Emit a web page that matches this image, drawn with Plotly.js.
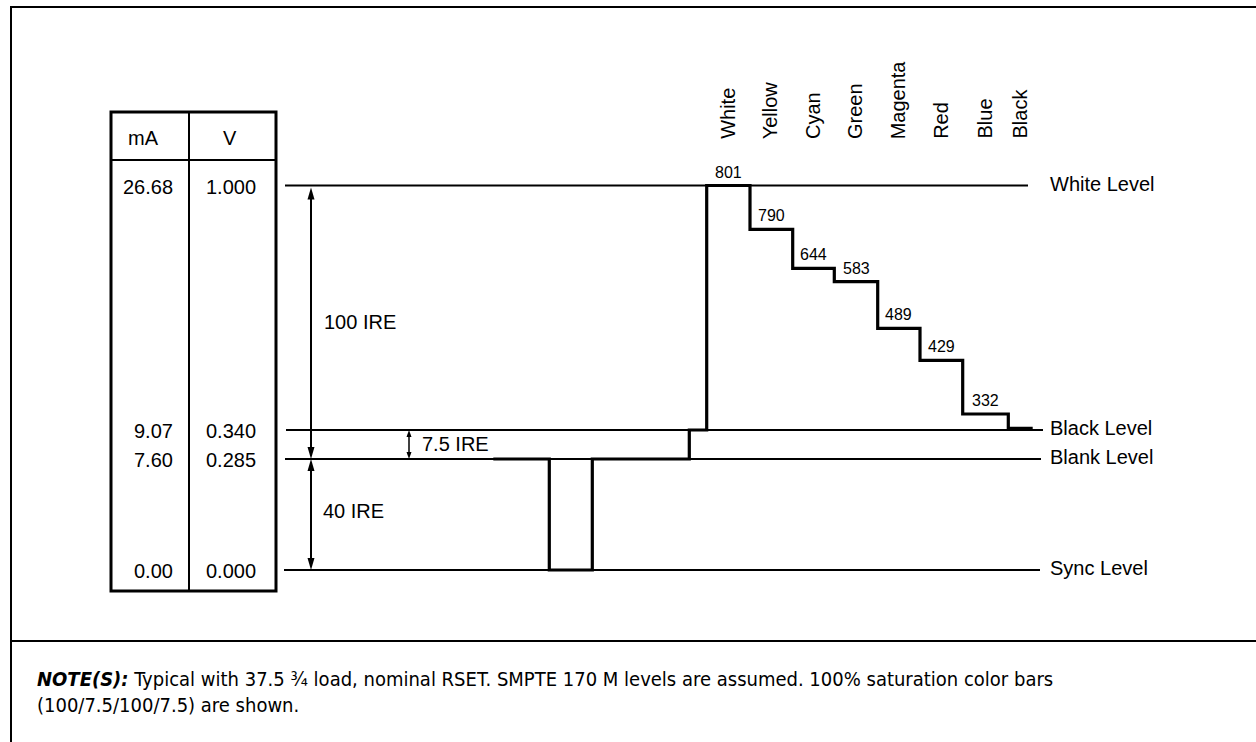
<!DOCTYPE html>
<html>
<head>
<meta charset="utf-8">
<script src="https://cdn.plot.ly/plotly-3.0.1.min.js"></script>
<style>html,body{margin:0;padding:0;background:#fff}#chart{width:1256px;height:742px}</style>
</head>
<body>
<div id="chart"></div>
<script>
// ---- data ----
const levelNames = ['White Level', 'Black Level', 'Blank Level', 'Sync Level'];
const levelmA = ['26.68', '9.07', '7.60', '0.00'];
const levelV = ['1.000', '0.340', '0.285', '0.000'];
const levelIRE = [100, 7.5, 0, -40];
// schematic height of each level in the drawing (not to scale)
const levelY = [384.5, 140, 111, 0];

const barNames = ['White', 'Yellow', 'Cyan', 'Green', 'Magenta', 'Red', 'Blue', 'Black'];
const barCodes = [801, 790, 644, 583, 489, 429, 332, null];
const barY = [384.5, 340.7, 301.7, 288.3, 241.7, 209.7, 156, 141.7];
const barEdges = [706.7, 750, 792.7, 834.3, 877.7, 920, 962.7, 1008.3, 1032.7];

// horizontal sync / blanking interval (time, schematic)
const blankStart = 493.3, syncStart = 549.3, syncEnd = 592.3, setupStart = 689.3;

const noteText = '<b><i>NOTE(S):</i></b> Typical with 37.5 ¾ load, nominal RSET. SMPTE 170 M levels are assumed. 100% saturation color bars<br>(100/7.5/100/7.5) are shown.';

// ---- helpers: 1 axis unit = 1 px ----
const Y0 = 570;            // pixel row of the sync level
const py = p => Y0 - p;    // pixel row -> axis value

const FONT = 'Liberation Sans, Arial, Helvetica, sans-serif';
const NARROW = 'Liberation Sans Narrow, Arial Narrow, DejaVu Sans Condensed, sans-serif';

const traces = [];
const shapes = [];
const ann = [];

// level lines
const lineStarts = [285, 286, 285, 284];
const lineEnds = [1028, 1043, 1041, 1040];
levelY.forEach((y, i) => {
  traces.push({x: [lineStarts[i], lineEnds[i]], y: [y, y], mode: 'lines',
    line: {color: '#000', width: 2}, hoverinfo: 'skip', showlegend: false});
  ann.push({x: 1048, y: y, text: levelNames[i], showarrow: false, xanchor: 'left', yanchor: 'middle',
    yshift: 2, font: {family: FONT, size: 20, color: '#000'}});
  ann.push({x: 175, y: y, text: levelmA[i], showarrow: false, xanchor: 'right', yanchor: 'middle',
    yshift: -1, font: {family: FONT, size: 20, color: '#000'}});
  ann.push({x: 258, y: y, text: levelV[i], showarrow: false, xanchor: 'right', yanchor: 'middle',
    yshift: -1, font: {family: FONT, size: 20, color: '#000'}});
});

// waveform
const wx = [blankStart, syncStart, syncStart, syncEnd, syncEnd, setupStart, setupStart, barEdges[0]];
const wy = [levelY[2], levelY[2], levelY[3], levelY[3], levelY[2], levelY[2], levelY[1], levelY[1]];
barY.forEach((y, i) => { wx.push(barEdges[i], barEdges[i + 1]); wy.push(y, y); });
traces.push({x: wx, y: wy, mode: 'lines', line: {color: '#000', width: 3.2, shape: 'linear'},
  hoverinfo: 'skip', showlegend: false});

// bar labels
barNames.forEach((n, i) => {
  const cx = (barEdges[i] + barEdges[i + 1]) / 2;
  ann.push({x: cx, y: py(138), text: n, showarrow: false, textangle: -90, xanchor: 'center', yanchor: 'bottom',
    xshift: -1, yshift: -3, font: {family: FONT, size: 20, color: '#000'}});
  if (barCodes[i] !== null) {
    ann.push({x: cx, y: barY[i], text: String(barCodes[i]), showarrow: false, xanchor: 'center', yanchor: 'bottom',
      yshift: 3, font: {family: FONT, size: 16, color: '#000'}});
  }
});

// dimension arrows
function dimArrow(x, yTop, yBot, w, headL, headW) {
  shapes.push({type: 'line', xref: 'x', yref: 'y', x0: x, x1: x, y0: yTop - headL + 1, y1: yBot + headL - 1,
    line: {color: '#000', width: w}});
  const hw = headW / 2;
  shapes.push({type: 'path', xref: 'x', yref: 'y', fillcolor: '#000', line: {width: 0},
    path: `M${x},${yTop} L${x - hw},${yTop - headL} L${x + hw},${yTop - headL} Z`});
  shapes.push({type: 'path', xref: 'x', yref: 'y', fillcolor: '#000', line: {width: 0},
    path: `M${x},${yBot} L${x - hw},${yBot + headL} L${x + hw},${yBot + headL} Z`});
}
dimArrow(311, levelY[0] - 2, levelY[2], 2, 12, 7);
dimArrow(311, levelY[2], levelY[3], 2, 12, 7);
dimArrow(409, levelY[1], levelY[2], 1.5, 7, 5);

const ireLabel = (v) => v + ' IRE';
ann.push({x: 322, y: (levelY[0] + levelY[2]) / 2, text: ireLabel(levelIRE[0] - levelIRE[2]), showarrow: false,
  xanchor: 'left', yanchor: 'middle', font: {family: FONT, size: 20, color: '#000'}});
ann.push({x: 321, y: (levelY[2] + levelY[3]) / 2 + 4, text: ireLabel(levelIRE[2] - levelIRE[3]), showarrow: false,
  xanchor: 'left', yanchor: 'middle', font: {family: FONT, size: 20, color: '#000'}});
ann.push({x: 420, y: (levelY[1] + levelY[2]) / 2 + 1, text: ireLabel(levelIRE[1] - levelIRE[2]), showarrow: false,
  xanchor: 'left', yanchor: 'middle', font: {family: FONT, size: 20, color: '#000'}});

// table
ann.push({x: 143.5, y: py(138), text: 'mA', showarrow: false, xanchor: 'center', yanchor: 'middle',
  font: {family: FONT, size: 20, color: '#000'}});
ann.push({x: 230, y: py(138), text: 'V', showarrow: false, xanchor: 'center', yanchor: 'middle',
  font: {family: FONT, size: 20, color: '#000'}});
shapes.push({type: 'rect', xref: 'x', yref: 'y', x0: 111, x1: 276, y0: py(112), y1: py(591),
  line: {color: '#000', width: 3}});
shapes.push({type: 'line', xref: 'x', yref: 'y', x0: 111, x1: 276, y0: py(160), y1: py(160),
  line: {color: '#000', width: 2}});
shapes.push({type: 'line', xref: 'x', yref: 'y', x0: 189, x1: 189, y0: py(112), y1: py(591),
  line: {color: '#000', width: 2}});

// frame
shapes.push({type: 'line', xref: 'x', yref: 'y', x0: 10, x1: 1260, y0: py(7), y1: py(7), line: {color: '#000', width: 2}});
shapes.push({type: 'line', xref: 'x', yref: 'y', x0: 11, x1: 11, y0: py(6), y1: py(750), line: {color: '#000', width: 2}});
shapes.push({type: 'line', xref: 'x', yref: 'y', x0: 11, x1: 1260, y0: py(641), y1: py(641), line: {color: '#000', width: 2}});

// note
ann.push({x: 35, y: py(665), text: noteText, showarrow: false, xanchor: 'left', yanchor: 'top', align: 'left',
  font: {family: NARROW, size: 20, color: '#000'}});

const layout = {
  width: 1256, height: 742,
  margin: {l: 0, r: 0, t: 0, b: 0, pad: 0},
  paper_bgcolor: '#fff', plot_bgcolor: '#fff',
  xaxis: {range: [0, 1256], visible: false, fixedrange: true},
  yaxis: {range: [py(742), py(0)], visible: false, fixedrange: true},
  showlegend: false,
  shapes: shapes,
  annotations: ann
};

Plotly.newPlot('chart', traces, layout, {staticPlot: true, displayModeBar: false});
</script>
</body>
</html>
